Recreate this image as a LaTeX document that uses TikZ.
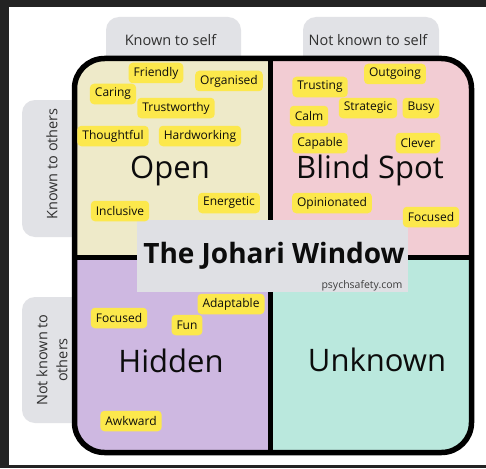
\documentclass[tikz,border=0pt]{standalone}
\usepackage{fontspec}
\setmainfont{Open Sans}
\definecolor{darkbg}{HTML}{232323}
\definecolor{tabgrey}{HTML}{E1E2E6}
\definecolor{titlegrey}{HTML}{DFE0E4}
\definecolor{openc}{HTML}{EEEAC9}
\definecolor{blindc}{HTML}{F2CCD3}
\definecolor{hiddenc}{HTML}{CEB8E1}
\definecolor{unknownc}{HTML}{BAE8DD}
\definecolor{tagc}{HTML}{FCE84C}
\definecolor{inkc}{HTML}{0C0C0C}
\tikzset{
  tag/.style={fill=tagc, rounded corners=4pt, inner xsep=5pt, inner ysep=0pt,
    minimum height=20.5pt, text=inkc, font=\fontsize{12}{13}\selectfont},
  quadtitle/.style={text=inkc, anchor=base, font=\fontsize{31}{34}\selectfont},
  tablabel/.style={text=inkc!85, font=\fontsize{14.5}{17}\selectfont, align=center},
  tabbox/.style={fill=tabgrey, rounded corners=13pt},
  divider/.style={line width=5pt, draw=black},
}
\begin{document}
\begin{tikzpicture}[x=1pt,y=-1pt]
\useasboundingbox (0,0) rectangle (486,468);
\fill[darkbg] (0,0) rectangle (486,468);
\fill[white] (9,7) rectangle (486,465);
% tabs
\fill[tabbox] (106,17) rectangle (241,90);
\fill[tabbox] (303,17) rectangle (439,90);
\fill[tabbox] (22,100) rectangle (100,237);
\fill[tabbox] (22,297) rectangle (100,423);
\node[tablabel] (kself) at (170.5,40) {Known to self};
\node[tablabel] (nkself) at (368,40) {Not known to self};
\node[tablabel, rotate=90] (kothers) at (52,164) {Known to others};
\node[tablabel, rotate=90, font=\fontsize{14.5}{20}\selectfont] (nkothers) at (52,360) {Not known to\\others};
% quadrants
\begin{scope}
\clip[rounded corners=30pt] (74.5,58.5) rectangle (471.5,452.5);
\fill[openc] (70,50) rectangle (270,257);
\fill[blindc] (270,50) rectangle (480,257);
\fill[hiddenc] (70,257) rectangle (270,460);
\fill[unknownc] (270,257) rectangle (480,460);
\end{scope}
\coordinate (vtop) at (270,58.5);
\coordinate (vbot) at (270,452.5);
\coordinate (hleft) at (74.5,257);
\coordinate (hright) at (471.5,257);
\draw[divider] (vtop) -- (vbot);
\draw[divider] (hleft) -- (hright);
\draw[line width=5.5pt, rounded corners=30pt] (74.5,58.5) rectangle (471.5,452.5);
% title box
\fill[titlegrey] (137,220) rectangle (408,292);
\node[text=inkc, anchor=base, font=\fontsize{28}{30}\selectfont\bfseries] (title) at (274,263) {The Johari Window};
\node[text=inkc!80, font=\fontsize{10.5}{12}\selectfont, anchor=base east] (site) at (406,288) {psychsafety.com};
% quadrant titles
\node[quadtitle] (open) at (170,178) {Open};
\node[quadtitle] (blind) at (370,178) {Blind Spot};
\node[quadtitle] (hidden) at (171,372) {Hidden};
\node[quadtitle] (unknown) at (377,371) {Unknown};
% open tags
\node[tag] (t1) at (156,73) {Friendly};
\node[tag] (t2) at (229,81) {Organised};
\node[tag] (t3) at (113,94) {Caring};
\node[tag] (t4) at (176,108) {Trustworthy};
\node[tag] (t5) at (113,136) {Thoughtful};
\node[tag] (t6) at (200,136) {Hardworking};
\node[tag] (t7) at (229,203) {Energetic};
\node[tag] (t8) at (120,211) {Inclusive};
% blind tags
\node[tag] (b1) at (395,74) {Outgoing};
\node[tag] (b2) at (320,87) {Trusting};
\node[tag] (b3) at (368,108) {Strategic};
\node[tag] (b4) at (421,108) {Busy};
\node[tag] (b5) at (309,116) {Calm};
\node[tag] (b6) at (320,143) {Capable};
\node[tag] (b7) at (418,143) {Clever};
\node[tag] (b8) at (332,203) {Opinionated};
\node[tag] (b9) at (431,217) {Focused};
% hidden tags
\node[tag] (h1) at (231,304) {Adaptable};
\node[tag] (h2) at (119,318) {Focused};
\node[tag] (h3) at (187,325) {Fun};
\node[tag] (h4) at (131,421) {Awkward};
\end{tikzpicture}
\end{document}
